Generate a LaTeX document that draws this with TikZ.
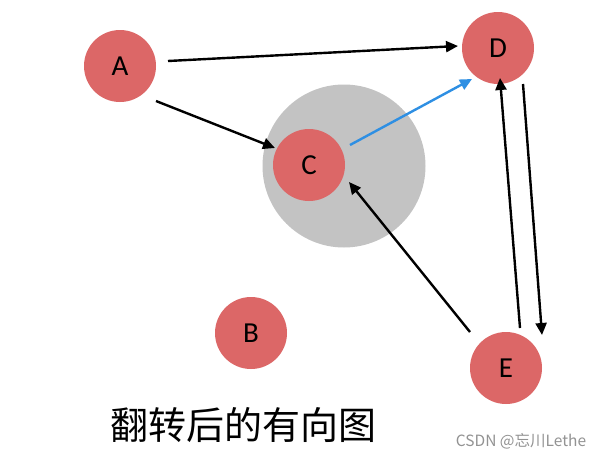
\documentclass[tikz,border=0pt]{standalone}
\usepackage{fontspec}
\setmainfont{Carlito}
\newfontfamily\cjk{Noto Sans CJK SC}
\usetikzlibrary{arrows.meta,calc}
\definecolor{nodered}{HTML}{DC6767}
\definecolor{halo}{HTML}{C3C3C3}
\definecolor{edgeblue}{HTML}{2E8FE3}
\tikzset{
  vtx/.style={circle,fill=nodered,minimum size=72pt,inner sep=0pt,font=\fontsize{29}{29}\selectfont},
  edge/.style={line width=2.4pt,-{Triangle[length=12pt,width=11pt]}},
}
\begin{document}
\begin{tikzpicture}[x=1pt,y=-1pt]
\useasboundingbox (0,0) rectangle (605,458);
\fill[white] (0,0) rectangle (605,458);
\node[circle,fill=halo,minimum size=163pt,inner sep=0pt] (halo) at (344,166) {};
\node[vtx] (A) at (120,66) {A};
\node[vtx] (D) at (498,48) {D};
\node[vtx] (C) at (309,165) {C};
\node[vtx] (B) at (251,333) {B};
\node[vtx] (E) at (506,368) {E};
\draw[edge] ($(A)+(48,-5)$) -- ($(D)+(-40,-2)$);
\draw[edge] ($(A)+(36,35)$) -- ($(C)+(-34,-17)$);
\draw[edge,edgeblue] ($(C)+(41,-20)$) -- ($(D)+(-26,31)$);
\draw[edge] ($(E)+(-36,-36)$) -- ($(C)+(40,17)$);
\draw[edge] ($(E)+(14,-40)$) -- ($(D)+(2,30)$);
\draw[edge] ($(D)+(25,36)$) -- ($(E)+(36,-33)$);
\node[font=\cjk\fontsize{38}{38}\selectfont] (cap) at (243,425) {翻转后的有向图};
\node[font=\cjk\fontsize{15.5}{15.5}\selectfont,text=gray!85] (wm) at (521,441) {CSDN @忘川Lethe};
\end{tikzpicture}
\end{document}
